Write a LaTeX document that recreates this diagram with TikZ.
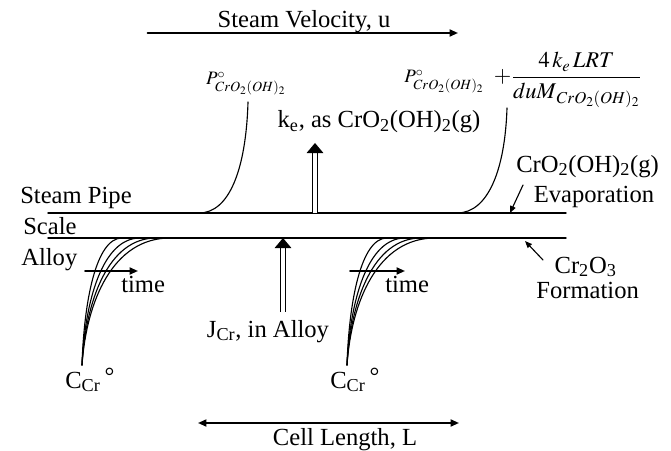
\documentclass[tikz,border=0pt]{standalone}
\usepackage{amsmath}
\usepackage{mathptmx}
\usepackage[no-math]{fontspec}
\setmainfont{Liberation Serif}
\usetikzlibrary{arrows.meta, calc}
\tikzset{
  >={Triangle[length=6pt, width=5pt]},
  every picture/.style={line cap=round, line join=round, font=\fontsize{17.5}{21}\selectfont},
  lbl/.style={inner sep=0pt},
  layer/.style={line width=1pt},
  profile/.style={line width=0.8pt},
  flow/.style={->, line width=1.3pt},
  pointer/.style={->, >={Triangle[length=5pt, width=4pt]}, line width=0.8pt},
  flux/.style={double, double distance=2.4pt, line width=0.7pt, line cap=butt},
  mathlabel/.style={inner sep=0pt, font=\fontsize{13.5}{16}\selectfont},
  % filled head of a hollow flux arrow, apex at the origin
  fluxtip/.pic={
    \fill (0,0) -- (-0.21,-0.25) -- (0.21,-0.25) -- cycle;
  },
}
\newcommand{\bigfrac}{\fontsize{16}{19}\selectfont}
\newcommand{\ccr}{C\textsubscript{Cr}\,\raisebox{.3ex}{°}}

\begin{document}
\begin{tikzpicture}
  \useasboundingbox (0,0) rectangle (16.775,11.25);
  % ---------- steam pipe / scale / alloy interfaces
  \coordinate (PipeL) at (1.2,5.925);
  \coordinate (PipeR) at (14.15,5.925);
  \coordinate (ScaleL) at (1.2,5.3);
  \coordinate (ScaleR) at (14.15,5.3);
  \draw[layer] (PipeL) -- (PipeR);
  \draw[layer] (ScaleL) -- (ScaleR);
  \node[lbl, anchor=base west] (pipe) at (0.5,6.175) {Steam Pipe};
  \node[lbl, anchor=base west] (scale) at (0.575,5.4) {Scale};
  \node[lbl, anchor=base west] (alloy) at (0.525,4.625) {Alloy};
  % ---------- steam flow and cell length
  \coordinate (VelA) at (3.69,10.425);
  \coordinate (VelB) at (11.45,10.425);
  \draw[flow] (VelA) -- (VelB);
  \node[lbl, anchor=base] (vel) at (7.6,10.55) {Steam Velocity, u};
  \coordinate (CellA) at (4.95,0.675);
  \coordinate (CellB) at (11.475,0.675);
  \draw[flow, <->] (CellA) -- (CellB);
  \node[lbl, anchor=base] (cell) at (8.625,0.125) {Cell Length, L};
  % ---------- vapour pressure rising along the pipe
  \coordinate (Pin) at (4.975,5.925);
  \coordinate (Pintop) at (6.2,8.7);
  \coordinate (Pout) at (11.425,5.925);
  \coordinate (Pouttop) at (12.675,8.55);
  \draw[profile] (Pin) .. controls +(0.75,0) and +(-0.05,-1.7) .. (Pintop);
  \draw[profile] (Pout) .. controls +(0.775,0) and +(-0.05,-1.55) .. (Pouttop);
  \node[mathlabel, anchor=base] (pin) at (6.15,9.125) {$P^{\circ}_{CrO_2(OH)_2}$};
  \node[mathlabel, anchor=base west] (pout) at (10.1,9.175)
    {$P^{\circ}_{CrO_2(OH)_2}$\hspace{7pt}{\bigfrac$+\dfrac{4\,k_e\,LRT}{duM_{\,CrO_2(OH)_2}}$}};
  % ---------- fluxes: evaporation up, chromium out of the alloy
  \coordinate (KeFoot) at (7.875,5.925);
  \coordinate (KeTip) at (7.875,7.675);
  \draw[flux] (KeFoot) -- ($(KeTip)+(0,-0.23)$);
  \pic at (KeTip) {fluxtip};
  \node[lbl, anchor=base] (ke) at (9.475,8.05) {k\textsubscript{e}, as CrO\textsubscript{2}(OH)\textsubscript{2}(g)};
  \coordinate (JFoot) at (7.075,3.45);
  \coordinate (JTip) at (7.075,5.3);
  \draw[flux] (JFoot) -- ($(JTip)+(0,-0.23)$);
  \pic at (JTip) {fluxtip};
  \node[lbl, anchor=base] (jcr) at (6.7,2.825) {J\textsubscript{Cr}, in Alloy};
  % ---------- depletion profiles in the alloy, one curve per time
  \coordinate (B1) at (2.05,2.125);
  \coordinate (B2) at (8.675,2.125);
  \foreach \B in {B1,B2}{
    \foreach \w in {1.0,1.45,1.85,2.2}{
      \draw[profile] (\B) .. controls +(0.05*\w,1.59) and +(-0.65*\w,0) .. ($(\B)+(\w,3.175)$);
    }
  }
  \coordinate (T1a) at (2.125,4.475);
  \coordinate (T1b) at (3.45,4.475);
  \coordinate (T2a) at (8.75,4.475);
  \coordinate (T2b) at (10.125,4.475);
  \draw[flow] (T1a) -- (T1b);
  \draw[flow] (T2a) -- (T2b);
  \node[lbl, anchor=base west] (time1) at (3.025,3.95) {time};
  \node[lbl, anchor=base west] (time2) at (9.625,3.95) {time};
  \node[lbl, anchor=base west] (c1) at (1.625,1.55) {\ccr};
  \node[lbl, anchor=base west] (c2) at (8.25,1.55) {\ccr};
  % ---------- reactions at the two interfaces
  \node[lbl, anchor=base] (gas) at (14.69,6.95) {CrO\textsubscript{2}(OH)\textsubscript{2}(g)};
  \node[lbl, anchor=base] (evap) at (14.85,6.2) {Evaporation};
  \coordinate (EvFrom) at (13.075,6.625);
  \coordinate (EvTo) at (12.75,5.925);
  \draw[pointer] (EvFrom) -- (EvTo);
  \node[lbl, anchor=base] (oxide) at (14.64,4.425) {Cr\textsubscript{2}O\textsubscript{3}};
  \node[lbl, anchor=base] (form) at (14.69,3.8) {Formation};
  \coordinate (FoFrom) at (13.575,4.75);
  \coordinate (FoTo) at (13.125,5.225);
  \draw[pointer] (FoFrom) -- (FoTo);
\end{tikzpicture}
\end{document}
